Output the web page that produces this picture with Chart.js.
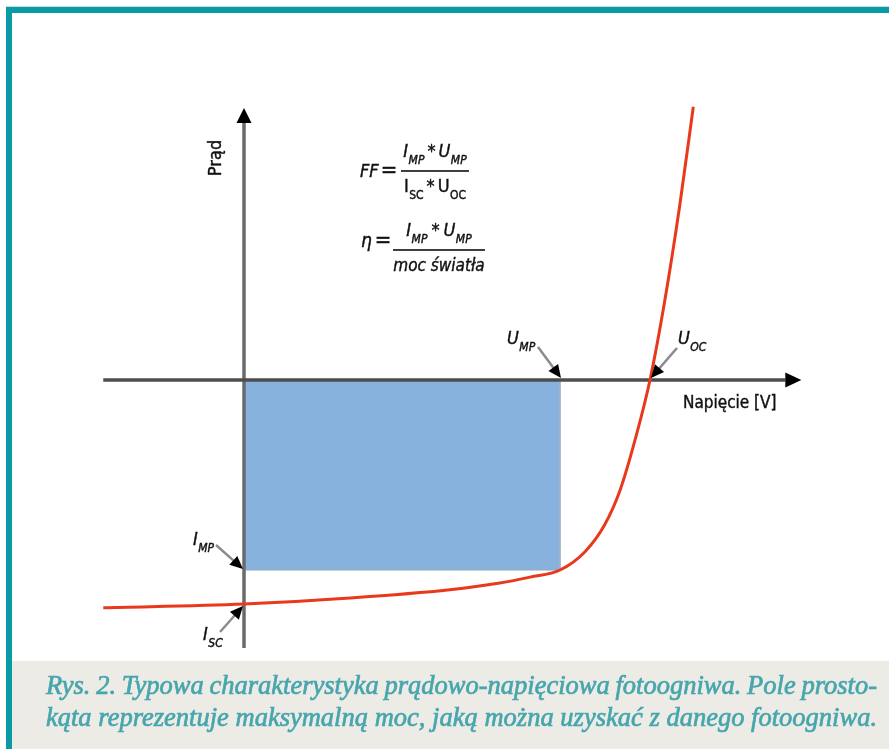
<!DOCTYPE html>
<html lang="pl">
<head>
<meta charset="utf-8">
<title>Charakterystyka prądowo-napięciowa fotoogniwa</title>
<script src="https://cdn.jsdelivr.net/npm/chart.js@4.4.1/dist/chart.umd.min.js"></script>
<style>
  html, body { margin: 0; padding: 0; background: #fff; }
  #wrap { width: 889px; height: 749px; position: relative; overflow: hidden; }
</style>
</head>
<body>
<div id="wrap"><canvas id="iv" width="889" height="749"></canvas></div>
<script>
// charakterystyka I-U: napięcie [V], prąd [A]
const curveU = [-0.208, 0, 0.157, 0.304, 0.378, 0.423, 0.467, 0.504, 0.533, 0.556, 0.578, 0.600, 0.622, 0.644, 0.664]
const curveI = [-3.05, -3.0, -2.92, -2.81, -2.72, -2.64, -2.545, -2.30, -1.94, -1.47, -0.80, 0, 1.07, 2.34, 3.66]

// punkt mocy maksymalnej, napięcie obwodu otwartego, prąd zwarcia
const Ump = 0.467, Imp = -2.545, Uoc = 0.600, Isc = -3.0

// zakres osi i widoku
const axisU = [-0.208, 0.80]
const axisI = [-3.59, 3.47]
const viewU = [-0.3606, 0.9532]
const viewI = [-4.942, 5.089]

const caption = [
    'Rys. 2. Typowa charakterystyka prądowo-napięciowa fotoogniwa. Pole prosto-',
    'kąta reprezentuje maksymalną moc, jaką można uzyskać z danego fotoogniwa.'
]

const SANS = '"Liberation Sans Narrow", "DejaVu Sans Condensed", Roboto, sans-serif'
const SERIF = '"Liberation Serif", "DejaVu Serif", serif'
const font = (s, it) => `${it ? 'italic ' : ''}${s}px ${SANS}`

const arrowHead = (ctx, x1, y1, x2, y2, len, half) => {
    const a = Math.atan2(y2 - y1, x2 - x1)
    const c = Math.cos(a), s = Math.sin(a)
    ctx.beginPath()
    ctx.moveTo(x2, y2)
    ctx.lineTo(x2 - len * c + half * s, y2 - len * s - half * c)
    ctx.lineTo(x2 - len * c - half * s, y2 - len * s + half * c)
    ctx.closePath()
    ctx.fill()
}

const runWidth = (ctx, parts) => parts.reduce((w, p) => {
    ctx.font = font(p.s, p.i)
    return w + (p.g || 0) + ctx.measureText(p.t).width
}, 0)

const drawRun = (ctx, x, y, parts) => {
    parts.forEach(p => {
        x += p.g || 0
        ctx.font = font(p.s, p.i)
        ctx.fillText(p.t, x, y + (p.dy || 0))
        ctx.strokeText(p.t, x, y + (p.dy || 0))
        x += ctx.measureText(p.t).width
    })
    return x
}

const sym = (main, sub, it = true, g = 0) => [
    { t: main, s: 18, i: it, g },
    { t: sub, s: 12, i: it, dy: 7, g: 0.5 }
]

const drawings = {
    id: 'drawings',
    afterDatasetsDraw(chart) {
        const ctx = chart.ctx
        const xs = chart.scales.x, ys = chart.scales.y
        const px = u => xs.getPixelForValue(u)
        const py = i => ys.getPixelForValue(i)
        const ox = px(0), oy = py(0)
        ctx.save()
        ctx.fillStyle = '#000'
        ctx.textBaseline = 'alphabetic'

        // groty osi
        arrowHead(ctx, px(axisU[0]), oy, px(axisU[1]) + 16, oy, 16, 7.5)
        arrowHead(ctx, ox, py(axisI[0]), ox, py(axisI[1]) - 13, 15, 7.5)

        // strzałki opisów
        const marks = [
            { at: [Ump, 0], tip: [1, -2], tail: [-22, -33], label: [-53, -36], main: 'U', sub: 'MP' },
            { at: [Uoc, 0], tip: [1, -2], tail: [27, -32], label: [28, -36], main: 'U', sub: 'OC' },
            { at: [0, Imp], tip: [-1, -1], tail: [-28, -25], label: [-51, -25], main: 'I', sub: 'MP' },
            { at: [0, Isc], tip: [-1, 2], tail: [-24, 28], label: [-41, 36], main: 'I', sub: 'SC' }
        ]
        marks.forEach(m => {
            const x = px(m.at[0]), y = py(m.at[1])
            const tx = x + m.tip[0], ty = y + m.tip[1]
            const sx = x + m.tail[0], sy = y + m.tail[1]
            const a = Math.atan2(ty - sy, tx - sx)
            ctx.strokeStyle = '#8c8c8c'
            ctx.lineWidth = 2.5
            ctx.beginPath()
            ctx.moveTo(sx, sy)
            ctx.lineTo(tx - 10 * Math.cos(a), ty - 10 * Math.sin(a))
            ctx.stroke()
            ctx.fillStyle = '#000'
            arrowHead(ctx, sx, sy, tx, ty, 13, 6)
            ctx.fillStyle = '#111'
            ctx.strokeStyle = '#111'
            ctx.lineWidth = 0.4
            drawRun(ctx, x + m.label[0], y + m.label[1], sym(m.main, m.sub))
        })

        // podpisy osi
        ctx.fillStyle = '#111'
        ctx.strokeStyle = '#111'
        ctx.lineWidth = 0.4
        drawRun(ctx, ox + 439, oy + 28, [{ t: 'Napięcie [V]', s: 17, i: false }])
        ctx.save()
        ctx.translate(ox - 23, oy - 222)
        ctx.rotate(-Math.PI / 2)
        ctx.textAlign = 'center'
        ctx.font = font(18, false)
        ctx.fillText('Prąd', 0, 0)
        ctx.strokeText('Prąd', 0, 0)
        ctx.restore()

        // wzory
        const fraction = (x0, x1, yBar, num, den) => {
            ctx.fillRect(x0, yBar - 0.8, x1 - x0, 1.6)
            const cx = (x0 + x1) / 2
            drawRun(ctx, cx - runWidth(ctx, num) / 2, yBar - 14, num)
            drawRun(ctx, cx - runWidth(ctx, den) / 2, yBar + 21, den)
        }
        drawRun(ctx, ox + 116, oy - 203, [{ t: 'FF', s: 18, i: true }, { t: '=', s: 22, i: false, g: 2 }])
        fraction(ox + 157, ox + 225, oy - 209,
            [...sym('I', 'MP'), { t: '*', s: 18, i: false, g: 3 }, ...sym('U', 'MP', true, 3)],
            [...sym('I', 'SC', false), { t: '*', s: 18, i: false, g: 3 }, ...sym('U', 'OC', false, 3)])

        drawRun(ctx, ox + 117, oy - 133, [{ t: 'η', s: 19, i: true }, { t: '=', s: 22, i: false, g: 3 }])
        fraction(ox + 149, ox + 241, oy - 130,
            [...sym('I', 'MP'), { t: '*', s: 18, i: false, g: 4 }, ...sym('U', 'MP', true, 4)],
            [{ t: 'moc światła', s: 17, i: true }])

        ctx.restore()
    },
    afterDraw(chart) {
        const ctx = chart.ctx
        ctx.save()
        // ramka
        ctx.fillStyle = '#0a9aa4'
        ctx.fillRect(6, 7, 883, 6)
        ctx.fillRect(6, 7, 6, 742)
        ctx.fillStyle = '#bfe3e5'
        ctx.fillRect(6, 6, 883, 1)
        // podpis rysunku
        ctx.fillStyle = '#edebe6'
        ctx.fillRect(12, 661, 877, 88)
        const x0 = 46, x1 = 877
        let size = 27
        const fits = s => caption.every(line => {
            ctx.font = `italic ${s}px ${SERIF}`
            const words = line.split(' ')
            const w = words.reduce((a, t) => a + ctx.measureText(t).width, 0)
            return w + (words.length - 1) * s * 0.2 <= x1 - x0
        })
        while (!fits(size)) size -= 0.5
        ctx.font = `italic ${size}px ${SERIF}`
        ctx.fillStyle = '#47a6ad'
        ctx.strokeStyle = '#47a6ad'
        ctx.lineWidth = 0.7
        caption.forEach((line, k) => {
            const words = line.split(' ')
            const ws = words.map(t => ctx.measureText(t).width)
            const gap = (x1 - x0 - ws.reduce((a, b) => a + b, 0)) / (words.length - 1)
            let x = x0
            const y = 694 + k * 32
            words.forEach((t, i) => {
                ctx.fillText(t, x, y)
                ctx.strokeText(t, x, y)
                x += ws[i] + gap
            })
        })
        ctx.restore()
    }
}

const line = (us, is) => us.map((u, k) => ({ x: u, y: is[k] }))

new Chart(document.getElementById('iv'), {
    type: 'line',
    data: {
        datasets: [
            {
                data: line(curveU, curveI),
                borderColor: '#e8391d', borderWidth: 3, pointRadius: 0,
                cubicInterpolationMode: 'monotone', fill: false
            },
            {
                data: line(axisU, [0, 0]),
                borderColor: '#4d4d4d', borderWidth: 3.5, pointRadius: 0, fill: false
            },
            {
                data: line([0, 0], axisI),
                borderColor: '#6a6a6a', borderWidth: 3.5, pointRadius: 0, fill: false
            },
            {
                data: line([Ump, Ump], [0, Imp]),
                borderColor: '#a3b3c6', borderWidth: 1, pointRadius: 0, fill: false
            },
            {
                data: line([0, Ump], [Imp, Imp]),
                borderColor: '#94a7be', borderWidth: 1.2, pointRadius: 0,
                backgroundColor: '#86b2dd', fill: { value: 0 }
            }
        ]
    },
    options: {
        responsive: false,
        animation: false,
        events: [],
        layout: { padding: 0 },
        plugins: { legend: { display: false }, tooltip: { enabled: false } },
        scales: {
            x: { type: 'linear', min: viewU[0], max: viewU[1], display: false },
            y: { type: 'linear', min: viewI[0], max: viewI[1], display: false }
        }
    },
    plugins: [drawings]
})
</script>
</body>
</html>
